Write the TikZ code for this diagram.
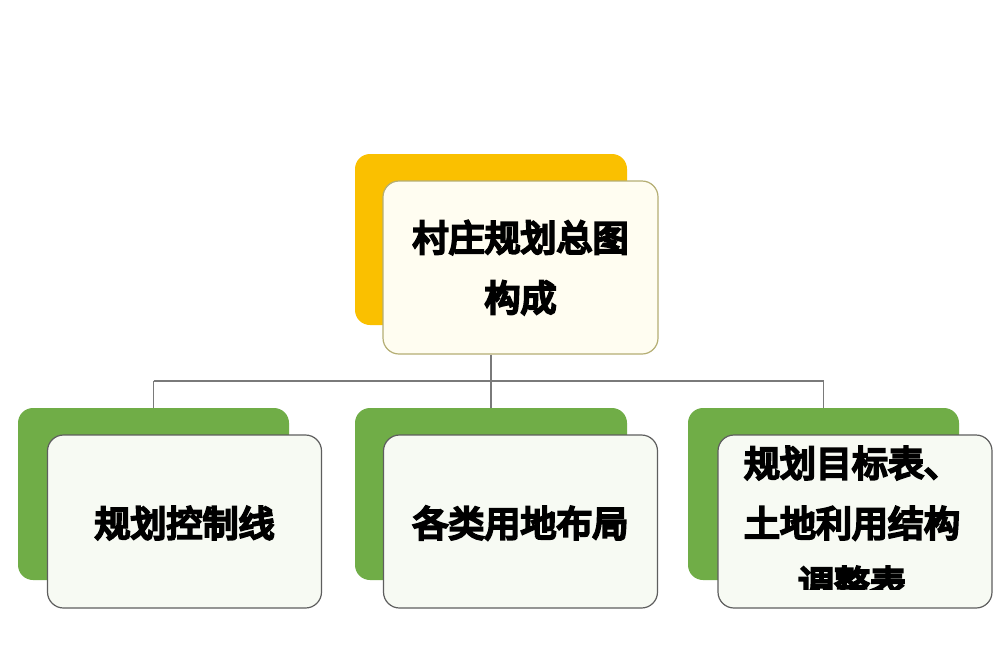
\documentclass[tikz,border=0pt]{standalone}
\usepackage{fontspec}
\newfontfamily\cjk{Noto Sans CJK SC}[FakeBold=7]
\definecolor{gold}{HTML}{FAC000}
\definecolor{leaf}{HTML}{70AD47}
\definecolor{cream}{HTML}{FFFDF1}
\definecolor{mint}{HTML}{F7FAF3}
\definecolor{olive}{HTML}{B5AE74}
\definecolor{edge}{HTML}{5E5E5E}
\definecolor{wire}{HTML}{7A7A7A}
\tikzset{
  backbox/.style={rectangle, rounded corners=15pt, inner sep=0pt, draw=none},
  topfront/.style={rectangle, rounded corners=16pt, inner sep=0pt, fill=cream, draw=olive, line width=1.2pt,
     minimum width=275pt, minimum height=173pt},
  kidfront/.style={rectangle, rounded corners=16pt, inner sep=0pt, fill=mint, draw=edge, line width=1.2pt,
     minimum width=274pt, minimum height=173pt},
  label/.style={font=\cjk\fontsize{36}{60}\selectfont, align=center, text=black},
  wireline/.style={draw=wire, line width=1.2pt}
}
\begin{document}
\begin{tikzpicture}[x=1pt,y=-1pt]
\useasboundingbox (0,0) rectangle (1000,664);
\fill[white] (0,0) rectangle (1000,664);
% back boxes
\node[backbox, fill=gold, minimum width=272pt, minimum height=171pt] (topback) at (491,239.5) {};
\node[backbox, fill=leaf, minimum width=271pt, minimum height=172pt] (lback) at (153.5,494) {};
\node[backbox, fill=leaf, minimum width=272pt, minimum height=172pt] (mback) at (491,494) {};
\node[backbox, fill=leaf, minimum width=271pt, minimum height=172pt] (rback) at (823.5,494) {};
\coordinate (bus) at (491,381);
% front boxes
\node[topfront, label] (top) at (520.5,267.5) {村庄规划总图\\构成};
\node[kidfront] (lfront) at (184.5,521.5) {};
\node[label] (ltext) at (184.5,523) {规划控制线};
\node[kidfront] (mfront) at (520.5,521.5) {};
\node[label] (mtext) at (520.5,523) {各类用地布局};
\node[kidfront] (rfront) at (855,521.5) {};
\begin{scope}
  \clip (718,435) rectangle (992,589);
  \node[label] (rtext) at (852,523) {规划目标表、\\土地利用结构\\调整表};
\end{scope}
% connectors
\draw[wireline] (topback.south |- top.south) -- (bus);
\draw[wireline] (lback.north |- bus) -- (rback.north |- bus);
\draw[wireline] (lback.north |- bus) -- (lback.north);
\draw[wireline] (mback.north |- bus) -- (mback.north);
\draw[wireline] (rback.north |- bus) -- (rback.north);
\end{tikzpicture}
\end{document}
